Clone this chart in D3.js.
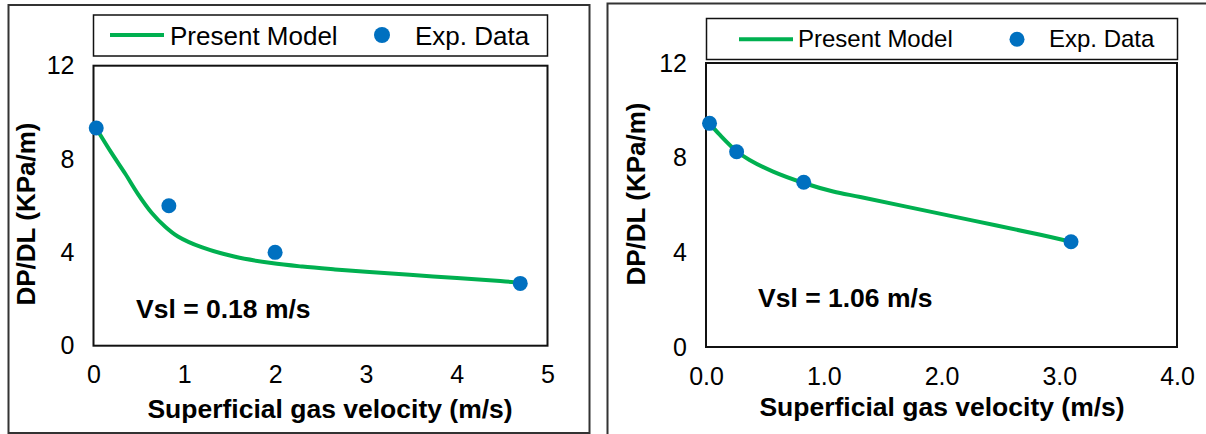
<!DOCTYPE html>
<html>
<head>
<meta charset="utf-8">
<script src="https://cdn.jsdelivr.net/npm/d3@7"></script>
<style>
    body { margin: 0; background: #fff; }
    svg { display: block; font-family: Arial, "Liberation Sans", sans-serif; }
</style>
</head>
<body>
<div id="chart"></div>
<script>
// Left panel (Vsl = 0.18 m/s)
const leftModelVel = [0.03, 0.2, 0.35, 0.49, 0.64, 0.79, 0.93, 1.19, 1.56, 1.96, 2.3, 2.66, 3.0, 3.74, 4.48, 4.7];
const leftModelDP  = [9.32, 8.25, 7.37, 6.5, 5.7, 5.1, 4.68, 4.22, 3.81, 3.54, 3.39, 3.27, 3.17, 2.97, 2.77, 2.7];
const leftExpVel = [0.03, 0.83, 2.0, 4.7];
const leftExpDP  = [9.33, 6.0, 4.0, 2.67];
const leftXTicks = [0, 1, 2, 3, 4, 5];

// Right panel (Vsl = 1.06 m/s)
const rightModelVel = [0.03, 0.12, 0.26, 0.37, 0.57, 0.83, 1.08, 1.31, 1.7, 2.27, 2.84, 3.1];
const rightModelDP  = [9.45, 8.95, 8.27, 7.9, 7.41, 6.93, 6.57, 6.34, 5.93, 5.34, 4.74, 4.45];
const rightExpVel = [0.03, 0.26, 0.83, 3.1];
const rightExpDP  = [9.45, 8.25, 6.96, 4.45];
const rightXTicks = [0, 1, 2, 3, 4];

const yTicks = [0, 4, 8, 12];
const legendLabels = ['Present Model', 'Exp. Data'];
const xTitle = 'Superficial gas velocity (m/s)';
const yTitle = 'DP/DL (KPa/m)';

var state = {
    width: 1206,
    height: 434,
    lineColor: '#00B050',
    dotColor: '#0070C0'
};

let svg = d3.select('#chart')
    .append('svg')
        .attr('width', state.width)
        .attr('height', state.height);

// outer frames of the two pasted figures
svg.append('rect')
    .attr('x', 8.5).attr('y', 5)
    .attr('width', 581).attr('height', 428)
    .style('fill', 'none')
    .style('stroke', '#333')
    .style('stroke-width', 2);

svg.append('path')
    .attr('d', 'M607.5,434V3.5H1206')
    .style('fill', 'none')
    .style('stroke', '#333')
    .style('stroke-width', 2);

drawPanel({
    modelX: leftModelVel, modelY: leftModelDP,
    expX: leftExpVel, expY: leftExpDP,
    xTicks: leftXTicks, xMax: 5, xFormat: d3.format('d'),
    plot: {left: 93.5, right: 547.5, top: 65.7, bottom: 345.7},
    legend: {x: 93.5, y: 15, w: 454, h: 41, fontSize: 26,
             lineX1: 110, lineX2: 164, textX: 170, dotX: 382, expX: 415, midY: 35, baseY: 45, r: 8},
    xTitle: {x: 330, y: 418, size: 26.5},
    yTitle: {x: 34.5, y: 214, size: 26},
    note: {text: 'Vsl = 0.18 m/s', x: 136, y: 318, size: 26.5},
    tickPadX: 20
});

drawPanel({
    modelX: rightModelVel, modelY: rightModelDP,
    expX: rightExpVel, expY: rightExpDP,
    xTicks: rightXTicks, xMax: 4, xFormat: d3.format('.1f'),
    plot: {left: 706, right: 1177, top: 63, bottom: 347},
    legend: {x: 706.5, y: 18.5, w: 471, h: 41, fontSize: 24,
             lineX1: 739, lineX2: 793, textX: 798, dotX: 1017, expX: 1049, midY: 39.3, baseY: 47, r: 7.5},
    xTitle: {x: 942, y: 416, size: 26.5},
    yTitle: {x: 645, y: 194, size: 26},
    note: {text: 'Vsl = 1.06 m/s', x: 758, y: 306.5, size: 26.5},
    tickPadX: 20.5
});

/**
Draws one scatter + model curve panel
*/
function drawPanel(cfg){
    let p = cfg.plot;
    let x = d3.scaleLinear().domain([0, cfg.xMax]).range([p.left, p.right]);
    let y = d3.scaleLinear().domain([0, 12]).range([p.bottom, p.top]);

    let g = svg.append('g');

    //x axis labels
    let xAxis = g.append('g')
        .attr('transform', 'translate(0,' + p.bottom + ')')
        .call(d3.axisBottom(x).tickValues(cfg.xTicks).tickFormat(cfg.xFormat)
            .tickSize(0).tickPadding(cfg.tickPadX));
    styleAxis(xAxis);

    //y axis labels
    let yAxis = g.append('g')
        .attr('transform', 'translate(' + p.left + ',0)')
        .call(d3.axisLeft(y).tickValues(yTicks).tickFormat(d3.format('d'))
            .tickSize(0).tickPadding(19));
    styleAxis(yAxis);

    //plot frame
    g.append('rect')
        .attr('x', p.left).attr('y', p.top)
        .attr('width', p.right - p.left).attr('height', p.bottom - p.top)
        .style('fill', 'none')
        .style('stroke', '#111')
        .style('stroke-width', 2);

    //model curve
    let line = d3.line()
        .x((d) => x(d[0]))
        .y((d) => y(d[1]))
        .curve(d3.curveCatmullRom.alpha(0.5));

    g.append('path')
        .datum(cfg.modelX.map((v, i) => [v, cfg.modelY[i]]))
        .attr('d', line)
        .style('fill', 'none')
        .style('stroke', state.lineColor)
        .style('stroke-width', 4)
        .style('stroke-linejoin', 'round')
        .style('stroke-linecap', 'round');

    //experimental points
    g.selectAll('circle.exp')
        .data(cfg.expX.map((v, i) => [v, cfg.expY[i]]))
        .enter()
        .append('circle')
            .attr('class', 'exp')
            .attr('cx', (d) => x(d[0]))
            .attr('cy', (d) => y(d[1]))
            .attr('r', 7.5)
            .attr('fill', state.dotColor);

    //legend
    let lg = cfg.legend;
    g.append('rect')
        .attr('x', lg.x).attr('y', lg.y)
        .attr('width', lg.w).attr('height', lg.h)
        .style('fill', '#fff')
        .style('stroke', '#111')
        .style('stroke-width', 1.5);
    g.append('line')
        .attr('x1', lg.lineX1).attr('x2', lg.lineX2)
        .attr('y1', lg.midY).attr('y2', lg.midY)
        .style('stroke', state.lineColor)
        .style('stroke-width', 4);
    g.append('text')
        .attr('x', lg.textX).attr('y', lg.baseY)
        .style('font-size', lg.fontSize + 'px')
        .text(legendLabels[0]);
    g.append('circle')
        .attr('cx', lg.dotX).attr('cy', lg.midY)
        .attr('r', lg.r)
        .attr('fill', state.dotColor);
    g.append('text')
        .attr('x', lg.expX).attr('y', lg.baseY)
        .style('font-size', lg.fontSize + 'px')
        .text(legendLabels[1]);

    //axis titles
    g.append('text')
        .attr('x', cfg.xTitle.x).attr('y', cfg.xTitle.y)
        .attr('text-anchor', 'middle')
        .style('font-size', cfg.xTitle.size + 'px')
        .style('font-weight', 'bold')
        .text(xTitle);

    g.append('text')
        .attr('transform', 'translate(' + cfg.yTitle.x + ',' + cfg.yTitle.y + ') rotate(-90)')
        .attr('text-anchor', 'middle')
        .style('font-size', cfg.yTitle.size + 'px')
        .style('font-weight', 'bold')
        .text(yTitle);

    //Vsl note
    g.append('text')
        .attr('x', cfg.note.x).attr('y', cfg.note.y)
        .style('font-size', cfg.note.size + 'px')
        .style('font-weight', 'bold')
        .text(cfg.note.text);
}

function styleAxis(axis){
    axis.select('.domain').remove();
    axis.selectAll('text')
        .style('font-family', 'Arial, "Liberation Sans", sans-serif')
        .style('font-size', '25px')
        .style('fill', '#000');
}
</script>
</body>
</html>
